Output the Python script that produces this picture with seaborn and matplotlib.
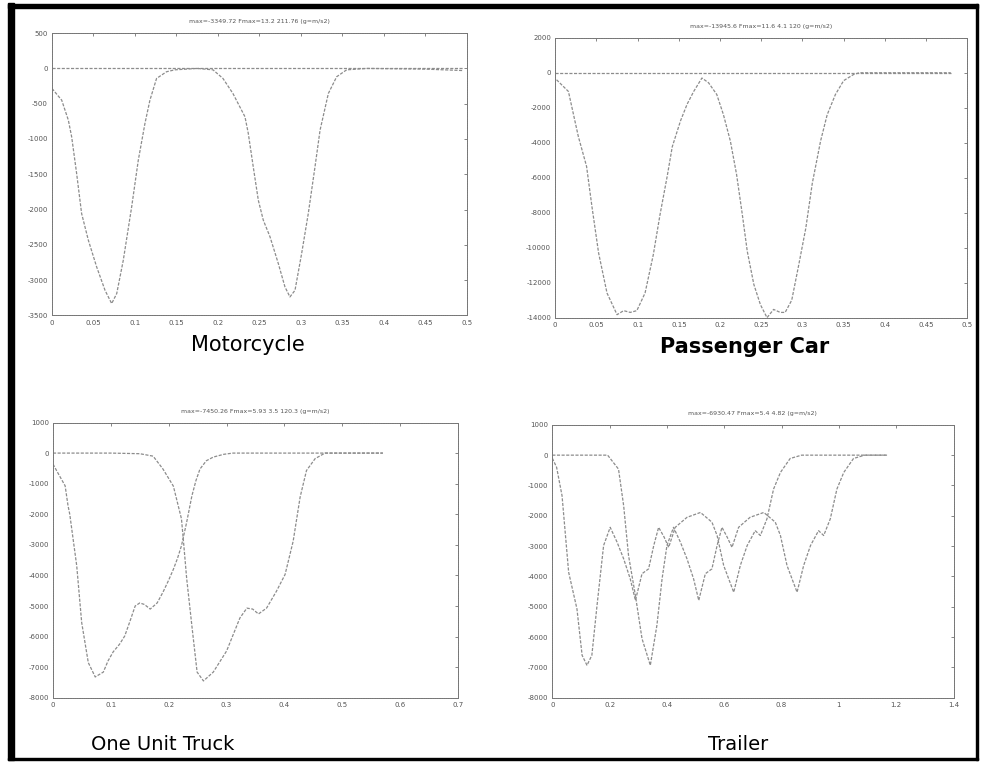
import matplotlib
matplotlib.use("Agg")
import matplotlib.pyplot as plt
from matplotlib.patches import Rectangle
import seaborn as sns

# ---- Motorcycle ----
moto_x = [0, 0.0117, 0.0197, 0.0237, 0.0297, 0.0357, 0.0438, 0.0538, 0.0639, 0.0719, 0.078,
          0.0859, 0.096, 0.104, 0.112, 0.118, 0.126, 0.138, 0.148, 0.175, 0.194, 0.206, 0.218,
          0.2325, 0.2365, 0.2425, 0.2486, 0.2546, 0.2627, 0.2727, 0.2807, 0.2867, 0.2928, 0.3008,
          0.3088, 0.3169, 0.323, 0.333, 0.343, 0.355, 0.38, 0.45, 0.495]
moto_y = [-284, -450, -733, -970, -1490, -2057, -2435, -2813, -3145, -3333, -3191,
          -2719, -1962, -1300, -780, -450, -142, -47, -20, 0, -20, -142, -355,
          -685, -920, -1395, -1868, -2151, -2387, -2766, -3097, -3239, -3145, -2624,
          -2057, -1395, -875, -355, -118, -20, 0, -10, -30]
moto_zero_x = [0, 0.495]
moto_zero_y = [0, 0]

# ---- Passenger car ----
car_x = [0.0016, 0.016, 0.028, 0.038, 0.0445, 0.0526, 0.0628, 0.075, 0.083, 0.091, 0.099,
         0.109, 0.119, 0.127, 0.136, 0.142, 0.152, 0.16, 0.168, 0.178, 0.186, 0.196, 0.204,
         0.2125, 0.22, 0.227, 0.233, 0.241, 0.249, 0.257, 0.265, 0.273, 0.279, 0.287, 0.295,
         0.304, 0.312, 0.322, 0.33, 0.34, 0.35, 0.362, 0.369, 0.42, 0.48]
car_y = [-400, -1070, -3640, -5350, -7640, -10300, -12590, -13830, -13600, -13700, -13600,
         -12590, -10400, -8150, -5880, -4230, -2750, -1800, -1070, -300, -570, -1240, -2380,
         -3900, -5800, -8100, -10200, -12100, -13260, -14000, -13530, -13700, -13700, -13000, -11100,
         -8900, -6300, -3900, -2400, -1240, -450, -100, 0, 0, 0]
car_zero_x = [0, 0.48]
car_zero_y = [0, 0]

# ---- One unit truck ----
truck1_x = [0, 0.01, 0.021, 0.026, 0.029, 0.041, 0.0496, 0.061, 0.073, 0.087, 0.095, 0.104,
            0.115, 0.124, 0.133, 0.142, 0.15, 0.158, 0.168, 0.18, 0.19, 0.2, 0.208, 0.215,
            0.222, 0.231, 0.24, 0.247, 0.254, 0.265, 0.277, 0.295, 0.311, 0.4, 0.5, 0.57]
truck1_y = [-360, -700, -1070, -1720, -2000, -3680, -5540, -6850, -7320, -7160, -6800, -6500,
            -6250, -5980, -5500, -5000, -4900, -4950, -5100, -4900, -4550, -4150, -3800, -3450,
            -3030, -2260, -1400, -900, -520, -250, -130, -40, 0, 0, 0, 0]
truck2_x = [0, 0.1, 0.15, 0.173, 0.19, 0.208, 0.222, 0.226, 0.231, 0.24, 0.249, 0.26, 0.277,
            0.3, 0.323, 0.335, 0.345, 0.355, 0.369, 0.386, 0.401, 0.415, 0.427, 0.438, 0.453,
            0.47, 0.5, 0.57]
truck2_y = [0, 0, -20, -100, -520, -1080, -2150, -3000, -4100, -5650, -7160, -7450, -7160,
            -6470, -5390, -5070, -5100, -5260, -5070, -4520, -3970, -2880, -1440, -570, -180,
            0, 0, 0]

# ---- Trailer ----
trail1_x = [0, 0.015, 0.034, 0.057, 0.086, 0.104, 0.121, 0.138, 0.156, 0.179, 0.202, 0.226,
            0.249, 0.272, 0.29, 0.313, 0.336, 0.354, 0.371, 0.39, 0.406, 0.429, 0.47, 0.517,
            0.557, 0.575, 0.598, 0.633, 0.656, 0.68, 0.708, 0.726, 0.749, 0.772, 0.796, 0.83,
            0.87, 1.0, 1.168]
trail1_y = [-100, -400, -1340, -3860, -5070, -6600, -6930, -6600, -4960, -2980, -2380, -2870,
            -3420, -4080, -4790, -3910, -3750, -2980, -2380, -2700, -3040, -2380, -2050, -1890,
            -2210, -2650, -3640, -4520, -3640, -2980, -2490, -2650, -2100, -1120, -570, -110,
            0, 0, 0]
trail2_x = [0, 0.1, 0.193, 0.231, 0.249, 0.266, 0.29, 0.313, 0.342, 0.365, 0.383, 0.4, 0.423,
            0.447, 0.47, 0.493, 0.511, 0.534, 0.557, 0.575, 0.592, 0.61, 0.627, 0.65, 0.69,
            0.738, 0.778, 0.796, 0.819, 0.854, 0.877, 0.901, 0.929, 0.947, 0.97, 0.993, 1.017,
            1.051, 1.09, 1.168]
trail2_y = [0, 0, 0, -460, -1670, -3310, -4630, -6050, -6930, -5610, -4080, -2980, -2380,
            -2870, -3420, -4080, -4790, -3910, -3750, -2980, -2380, -2700, -3040, -2380, -2050,
            -1890, -2210, -2650, -3640, -4520, -3640, -2980, -2490, -2650, -2100, -1120, -570,
            -110, 0, 0]

# axis ticks
moto_xticks = [0, 0.05, 0.1, 0.15, 0.2, 0.25, 0.3, 0.35, 0.4, 0.45, 0.5]
moto_yticks = [500, 0, -500, -1000, -1500, -2000, -2500, -3000, -3500]
car_xticks = moto_xticks
car_yticks = [2000, 0, -2000, -4000, -6000, -8000, -10000, -12000, -14000]
truck_xticks = [0, 0.1, 0.2, 0.3, 0.4, 0.5, 0.6, 0.7]
truck_yticks = [1000, 0, -1000, -2000, -3000, -4000, -5000, -6000, -7000, -8000]
trail_xticks = [0, 0.2, 0.4, 0.6, 0.8, 1, 1.2, 1.4]
trail_yticks = truck_yticks

titles = ["max=-3349.72 Fmax=13.2 211.76 (g=m/s2)",
          "max=-13945.6 Fmax=11.6 4.1 120 (g=m/s2)",
          "max=-7450.26 Fmax=5.93 3.5 120.3 (g=m/s2)",
          "max=-6930.47 Fmax=5.4 4.82 (g=m/s2)"]
names = ["Motorcycle", "Passenger Car", "One Unit Truck", "Trailer"]

sns.set_theme(style="white")
plt.rcParams["font.family"] = ["DejaVu Sans"]

fig = plt.figure(figsize=(9.81, 7.71), dpi=100)

line_kw = dict(color="#8c8c8c", linewidth=0.9, dashes=False, estimator=None, sort=False)


def make_axes(rect, series, xticks, yticks, title):
    ax = fig.add_axes(rect)
    for xs, ys in series:
        sns.lineplot(x=xs, y=ys, ax=ax, linestyle=(0, (2.5, 1.2)), **line_kw)
    ax.set_xlim(xticks[0], xticks[-1])
    ax.set_ylim(min(yticks), max(yticks))
    ax.set_xticks(xticks)
    ax.set_yticks(yticks)
    ax.set_xticklabels([f"{t:g}" for t in xticks])
    ax.set_yticklabels([f"{t:g}" for t in yticks])
    ax.tick_params(direction="in", length=2, width=0.5, labelsize=5, colors="#555555",
                   top=True, right=True, pad=3)
    for s in ax.spines.values():
        s.set_color("#777777")
        s.set_linewidth(0.7)
        s.set_linestyle((0, (1.5, 0.8)))
    ax.set_title(title, fontsize=4.5, color="#555555", pad=7)
    return ax


make_axes([0.053, 0.591, 0.423, 0.366],
          [(moto_zero_x, moto_zero_y), (moto_x, moto_y)], moto_xticks, moto_yticks, titles[0])
make_axes([0.566, 0.588, 0.420, 0.363],
          [(car_zero_x, car_zero_y), (car_x, car_y)], car_xticks, car_yticks, titles[1])
make_axes([0.054, 0.095, 0.413, 0.357],
          [(truck1_x, truck1_y), (truck2_x, truck2_y)], truck_xticks, truck_yticks, titles[2])
make_axes([0.563, 0.095, 0.409, 0.354],
          [(trail1_x, trail1_y), (trail2_x, trail2_y)], trail_xticks, trail_yticks, titles[3])

fig.text(0.253, 0.553, names[0], ha="center", va="center", fontsize=15, color="black")
fig.text(0.759, 0.550, names[1], ha="center", va="center", fontsize=15, fontweight="bold",
         color="black")
fig.text(0.166, 0.034, names[2], ha="center", va="center", fontsize=14, color="black")
fig.text(0.752, 0.034, names[3], ha="center", va="center", fontsize=14, color="black")

# scanned page border
W, H = 981, 771
fig.patches.append(Rectangle((8 / W, 1 - 760 / H), 6 / W, 757 / H, transform=fig.transFigure,
                             color="black", zorder=5))
fig.patches.append(Rectangle((8 / W, 1 - 8 / H), 970 / W, 4 / H, transform=fig.transFigure,
                             color="black", zorder=5))
fig.patches.append(Rectangle((8 / W, 1 - 760 / H), 970 / W, 2.5 / H, transform=fig.transFigure,
                             color="black", zorder=5))
fig.patches.append(Rectangle((976 / W, 1 - 760 / H), 2 / W, 756 / H, transform=fig.transFigure,
                             color="black", zorder=5))

fig.savefig("out.png", dpi=100)
